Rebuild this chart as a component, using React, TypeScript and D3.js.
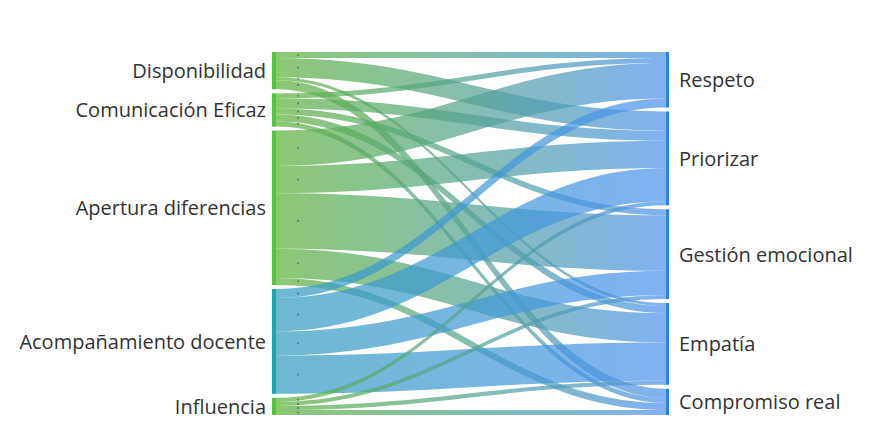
import React from "react";
import * as d3 from "d3";

const sourceNames = [
  "Disponibilidad",
  "Comunicación Eficaz",
  "Apertura diferencias",
  "Acompañamiento docente",
  "Influencia",
];
const targetNames = ["Respeto", "Priorizar", "Gestión emocional", "Empatía", "Compromiso real"];

const linkSource = [0, 0, 0, 0, 1, 1, 1, 1, 1, 2, 2, 2, 2, 2, 3, 3, 3, 3, 4, 4, 4, 4];
const linkTarget = [0, 1, 3, 4, 0, 1, 2, 3, 4, 0, 1, 2, 3, 4, 0, 1, 2, 3, 1, 2, 3, 4];
const linkValue = [6, 19, 3, 9, 5, 10, 6, 7, 5, 35, 27, 55, 29, 7, 9, 33, 24, 38, 4, 4, 4, 5];

const W = 887;
const H = 430;
const TOP = 52;
const BOTTOM = 415;
const PAD = 4;
const LX0 = 272;
const LX1 = 276;
const RX0 = 666;
const RX1 = 669;
const CURV = 0.42;

const nodeGreen = "#4ec93a";
const nodeTeal = "#18a7b5";
const nodeBlue = "#2f7fe6";
const linkGreen = "#5fb33d";
const linkTeal = "#369ec0";
const linkBlue = "#4d94ec";

export default function App() {
  const total = d3.sum(linkValue);
  const scale = d3
    .scaleLinear()
    .domain([0, total])
    .range([0, BOTTOM - TOP - PAD * (sourceNames.length - 1)]);

  const links = linkValue.map((v, i) => ({ i, s: linkSource[i], t: linkTarget[i], v }));

  const layoutNodes = (names: string[], key: "s" | "t") => {
    let y = TOP;
    return names.map((name, idx) => {
      const val = d3.sum(links.filter((l) => l[key] === idx), (l) => l.v);
      const h = scale(val);
      const node = { name, y0: y, y1: y + h };
      y += h + PAD;
      return node;
    });
  };
  const left = layoutNodes(sourceNames, "s");
  const right = layoutNodes(targetNames, "t");

  const sy: Record<number, number> = {};
  const ty: Record<number, number> = {};
  left.forEach((n, idx) => {
    let y = n.y0;
    links
      .filter((l) => l.s === idx)
      .sort((a, b) => a.t - b.t)
      .forEach((l) => {
        sy[l.i] = y;
        y += scale(l.v);
      });
  });
  right.forEach((n, idx) => {
    let y = n.y0;
    links
      .filter((l) => l.t === idx)
      .sort((a, b) => a.s - b.s)
      .forEach((l) => {
        ty[l.i] = y;
        y += scale(l.v);
      });
  });

  const dx = RX0 - LX1;
  const c0 = LX1 + dx * CURV;
  const c1 = RX0 - dx * CURV;
  const linkPath = (l: { i: number; v: number }) => {
    const w = scale(l.v);
    const a = sy[l.i];
    const b = ty[l.i];
    const p = d3.path();
    p.moveTo(LX1, a);
    p.bezierCurveTo(c0, a, c1, b, RX0, b);
    p.lineTo(RX0, b + w);
    p.bezierCurveTo(c1, b + w, c0, a + w, LX1, a + w);
    p.closePath();
    return p.toString();
  };

  const srcNodeColor = (s: number) => (s === 3 ? nodeTeal : nodeGreen);

  const font = "'Open Sans', 'Noto Sans', sans-serif";

  return (
    <svg
      width={W}
      height={H}
      style={{ position: "absolute", left: 0, top: 0, background: "#fff" }}
    >
      <defs>
        {[linkGreen, linkTeal].map((c, k) => (
          <linearGradient
            key={k}
            id={`g${k}`}
            gradientUnits="userSpaceOnUse"
            x1={LX1}
            x2={RX0}
            y1={0}
            y2={0}
          >
            <stop offset="0%" stopColor={c} />
            <stop offset="100%" stopColor={linkBlue} />
          </linearGradient>
        ))}
      </defs>
      <g>
        {links.map((l) => (
          <path
            key={l.i}
            d={linkPath(l)}
            fill={`url(#g${l.s === 3 ? 1 : 0})`}
            fillOpacity={0.72}
          />
        ))}
      </g>
      <g>
        {links.map((l) => (
          <circle
            key={l.i}
            cx={LX1 + 22}
            cy={sy[l.i] + scale(l.v) / 2}
            r={1.1}
            fill="#4a5a4a"
            opacity={0.6}
          />
        ))}
      </g>
      <g>
        {left.map((n, idx) => (
          <rect
            key={n.name}
            x={LX0}
            y={n.y0}
            width={LX1 - LX0}
            height={n.y1 - n.y0}
            fill={srcNodeColor(idx)}
          />
        ))}
        {right.map((n) => (
          <rect
            key={n.name}
            x={RX0}
            y={n.y0}
            width={RX1 - RX0}
            height={n.y1 - n.y0}
            fill={nodeBlue}
          />
        ))}
      </g>
      <g fontFamily={font} fontSize={20} fill="#333">
        {left.map((n) => (
          <text
            key={n.name}
            x={LX0 - 6}
            y={(n.y0 + n.y1) / 2}
            textAnchor="end"
            dominantBaseline="central"
          >
            {n.name}
          </text>
        ))}
        {right.map((n) => (
          <text
            key={n.name}
            x={RX1 + 10}
            y={(n.y0 + n.y1) / 2}
            textAnchor="start"
            dominantBaseline="central"
          >
            {n.name}
          </text>
        ))}
      </g>
    </svg>
  );
}
